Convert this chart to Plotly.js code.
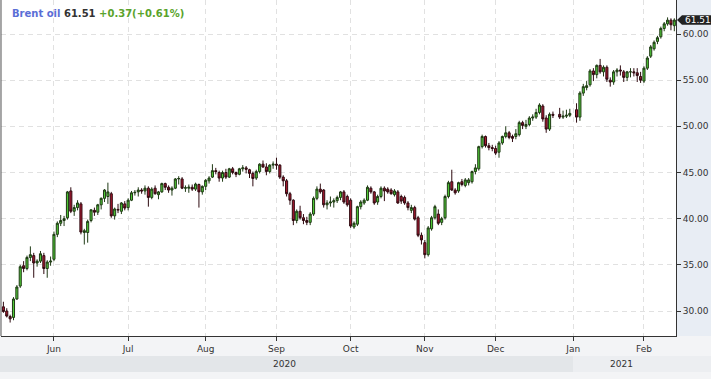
<!DOCTYPE html>
<html>
<head>
<meta charset="utf-8">
<script src="https://cdn.plot.ly/plotly-3.0.1.min.js"></script>
<style>
html,body{margin:0;padding:0;background:#f3f4f6;}
#chart{width:711px;height:379px;}
</style>
</head>
<body>
<div id="chart"></div>
<script>
// ---- data (daily OHLC) ----
const dates = [
 '2020-05-11','2020-05-12','2020-05-13','2020-05-14','2020-05-15','2020-05-18','2020-05-19','2020-05-20','2020-05-21','2020-05-22','2020-05-25','2020-05-26','2020-05-27','2020-05-28','2020-05-29',
 '2020-06-01','2020-06-02','2020-06-03','2020-06-04','2020-06-05','2020-06-08','2020-06-09','2020-06-10','2020-06-11','2020-06-12','2020-06-15','2020-06-16','2020-06-17','2020-06-18','2020-06-19','2020-06-22','2020-06-23','2020-06-24','2020-06-25','2020-06-26','2020-06-29','2020-06-30',
 '2020-07-01','2020-07-02','2020-07-03','2020-07-06','2020-07-07','2020-07-08','2020-07-09','2020-07-10','2020-07-13','2020-07-14','2020-07-15','2020-07-16','2020-07-17','2020-07-20','2020-07-21','2020-07-22','2020-07-23','2020-07-24','2020-07-27','2020-07-28','2020-07-29','2020-07-30','2020-07-31',
 '2020-08-03','2020-08-04','2020-08-05','2020-08-06','2020-08-07','2020-08-10','2020-08-11','2020-08-12','2020-08-13','2020-08-14','2020-08-17','2020-08-18','2020-08-19','2020-08-20','2020-08-21','2020-08-24','2020-08-25','2020-08-26','2020-08-27','2020-08-28','2020-08-31',
 '2020-09-01','2020-09-02','2020-09-03','2020-09-04','2020-09-07','2020-09-08','2020-09-09','2020-09-10','2020-09-11','2020-09-14','2020-09-15','2020-09-16','2020-09-17','2020-09-18','2020-09-21','2020-09-22','2020-09-23','2020-09-24','2020-09-25','2020-09-28','2020-09-29','2020-09-30',
 '2020-10-01','2020-10-02','2020-10-05','2020-10-06','2020-10-07','2020-10-08','2020-10-09','2020-10-12','2020-10-13','2020-10-14','2020-10-15','2020-10-16','2020-10-19','2020-10-20','2020-10-21','2020-10-22','2020-10-23','2020-10-26','2020-10-27','2020-10-28','2020-10-29','2020-10-30',
 '2020-11-02','2020-11-03','2020-11-04','2020-11-05','2020-11-06','2020-11-09','2020-11-10','2020-11-11','2020-11-12','2020-11-13','2020-11-16','2020-11-17','2020-11-18','2020-11-19','2020-11-20','2020-11-23','2020-11-24','2020-11-25','2020-11-26','2020-11-27','2020-11-30',
 '2020-12-01','2020-12-02','2020-12-03','2020-12-04','2020-12-07','2020-12-08','2020-12-09','2020-12-10','2020-12-11','2020-12-14','2020-12-15','2020-12-16','2020-12-17','2020-12-18','2020-12-21','2020-12-22','2020-12-23','2020-12-24','2020-12-28','2020-12-29','2020-12-30','2020-12-31',
 '2021-01-04','2021-01-05','2021-01-06','2021-01-07','2021-01-08','2021-01-11','2021-01-12','2021-01-13','2021-01-14','2021-01-15','2021-01-18','2021-01-19','2021-01-20','2021-01-21','2021-01-22','2021-01-25','2021-01-26','2021-01-27','2021-01-28','2021-01-29',
 '2021-02-01','2021-02-02','2021-02-03','2021-02-04','2021-02-05','2021-02-08','2021-02-09','2021-02-10','2021-02-11','2021-02-12'
];
const opens = [
 30.45,30.0,29.4,29.3,31.3,32.7,34.9,34.6,35.8,36.0,35.2,35.4,36.0,34.6,35.3,
 35.6,38.3,39.5,39.8,40.1,43.0,40.8,41.2,41.6,38.5,38.5,39.8,40.9,40.7,41.5,42.2,42.4,42.7,40.3,41.0,40.8,41.6,
 41.2,42.0,42.8,42.9,43.1,43.0,43.3,42.3,43.3,42.6,42.9,43.8,43.4,43.1,43.3,44.3,44.3,43.3,43.3,43.4,43.2,43.7,42.9,
 43.5,44.1,44.5,45.2,45.0,44.4,45.0,44.5,45.4,45.0,44.8,45.4,45.5,45.3,44.9,44.4,45.1,45.9,45.6,45.1,45.8,
 45.9,45.8,44.5,44.1,42.7,42.0,39.8,40.8,40.1,39.8,39.6,40.5,42.2,43.2,43.1,41.5,41.7,41.8,41.95,42.3,42.9,42.4,
 42.0,39.1,39.4,41.3,41.7,42.0,43.3,42.9,41.8,42.4,43.3,43.2,43.1,42.6,42.9,42.4,42.3,41.7,40.9,41.2,40.1,38.2,
 37.4,36.1,38.9,40.1,40.5,39.6,40.1,42.4,44.0,43.1,43.0,44.0,43.6,43.9,44.0,45.1,45.4,47.8,48.9,47.9,47.7,
 47.6,47.2,48.2,48.9,49.3,48.9,48.9,49.1,50.4,50.0,50.2,50.9,51.0,51.5,52.2,50.9,49.7,51.3,51.3,51.0,51.1,51.2,
 51.8,51.0,53.6,54.2,54.5,56.0,55.6,56.6,55.9,56.4,55.0,54.8,55.9,56.1,55.9,55.3,55.9,55.9,55.8,55.4,
 54.9,56.3,57.6,58.4,59.2,59.7,60.6,61.1,61.5,60.9
];
const highs = [
 31.0,30.3,29.6,31.5,32.8,35.0,35.4,36.0,37.0,36.3,35.6,36.5,36.3,35.5,35.9,
 38.6,39.7,40.4,40.3,43.0,43.4,41.5,42.0,41.8,38.9,39.9,41.0,41.2,41.6,42.3,43.2,43.9,42.9,41.2,41.6,41.8,41.9,
 42.2,43.0,43.1,43.4,43.3,43.6,43.5,43.4,43.6,43.0,43.9,43.9,43.6,43.5,44.4,44.6,44.5,43.6,43.7,43.7,43.9,43.8,43.6,
 44.3,44.6,45.9,45.5,45.2,45.2,45.4,45.5,45.6,45.1,45.5,45.8,45.7,45.4,45.1,45.3,46.0,46.3,46.0,45.9,46.2,
 46.6,45.9,44.7,44.3,42.9,42.1,41.0,41.4,40.5,40.2,40.7,42.4,43.5,43.8,43.2,42.0,42.4,42.2,42.5,43.0,43.1,42.6,
 42.2,39.7,41.4,42.0,42.2,43.6,43.5,43.0,42.6,43.5,43.5,43.4,43.3,43.2,43.1,42.6,42.5,41.9,41.5,41.4,40.3,38.5,
 37.7,39.2,40.3,41.5,41.0,40.2,42.6,44.1,45.3,43.3,44.0,44.3,44.4,44.4,45.2,45.9,47.9,49.1,49.0,48.2,48.0,
 47.9,48.4,49.0,50.0,49.5,49.1,49.7,50.6,50.6,50.7,51.1,51.3,51.9,52.5,52.4,51.2,51.5,51.6,52.0,51.7,51.8,51.9,
 52.5,53.8,54.6,54.9,56.2,56.3,56.7,57.3,56.6,56.6,55.3,56.1,56.3,56.6,56.1,56.0,56.3,56.3,56.3,55.9,
 56.5,57.6,58.8,59.3,59.8,60.8,61.3,61.8,61.7,61.7
];
const lows = [
 29.8,29.3,28.75,29.0,31.2,32.5,34.2,34.4,35.4,33.6,34.8,35.2,34.0,33.6,34.9,
 35.4,38.0,39.2,39.2,39.9,40.6,40.3,40.9,38.3,37.2,37.4,39.6,40.3,40.4,41.0,41.8,41.6,40.1,39.9,40.6,40.5,40.9,
 40.9,41.9,42.5,42.4,42.7,42.6,41.3,42.1,42.6,42.1,42.8,43.1,42.8,42.5,43.2,43.7,43.2,42.9,42.8,43.0,43.0,41.2,42.6,
 43.1,43.8,44.4,44.8,44.0,44.0,44.3,44.4,44.8,44.5,44.7,45.1,44.9,44.4,43.5,44.2,44.9,45.5,44.7,44.9,45.4,
 45.3,44.3,43.5,42.4,41.5,39.3,39.5,39.9,39.4,39.3,39.3,40.3,42.0,42.7,41.2,41.0,41.3,41.2,41.7,42.0,41.6,41.3,
 39.0,38.9,39.2,41.0,41.5,41.9,42.7,41.5,41.5,42.2,41.9,42.7,42.6,42.4,41.6,41.6,41.5,40.9,40.6,39.8,38.0,37.2,
 35.7,35.9,38.7,39.9,39.3,39.3,39.9,42.2,43.0,42.6,42.8,43.5,43.4,43.6,43.8,44.8,45.2,47.6,47.7,47.4,47.3,
 46.9,46.6,48.0,48.7,48.6,48.3,48.6,48.9,49.7,49.7,50.0,50.6,50.8,51.3,50.5,49.3,49.5,50.9,50.8,50.8,50.9,51.0,
 50.4,50.6,53.3,53.9,54.3,54.9,55.2,55.7,55.4,54.8,54.3,54.5,55.4,55.5,54.8,54.9,55.3,55.4,54.8,54.7,
 54.7,56.1,57.4,58.2,58.9,59.5,60.3,60.9,60.4,60.3
];
const closes = [
 29.95,29.45,29.15,31.3,32.6,34.8,34.6,35.8,36.1,35.2,35.4,36.2,34.6,35.3,35.4,
 38.3,39.5,39.8,40.0,42.9,40.8,41.2,41.7,38.55,38.7,39.7,40.96,40.7,41.5,42.2,43.1,42.9,40.3,41.05,40.95,41.7,41.15,
 42.0,42.8,42.85,43.1,43.0,43.3,42.3,43.2,42.7,42.9,43.8,43.4,43.1,43.3,44.3,44.35,43.3,43.35,43.4,43.2,43.75,42.9,43.5,
 44.15,44.4,45.2,45.1,44.4,45.0,44.5,45.4,45.0,44.8,45.4,45.5,45.35,44.9,44.35,45.1,45.9,45.6,45.1,45.8,45.9,
 45.8,44.5,44.1,42.7,42.0,39.8,40.8,40.1,39.8,39.6,40.5,42.2,43.2,42.9,41.5,41.7,41.8,41.95,42.3,42.9,41.8,41.5,
 39.2,39.5,41.3,41.8,42.0,43.4,42.9,41.7,42.4,43.3,43.0,42.9,42.7,43.0,41.7,41.9,41.7,41.2,41.2,39.95,38.2,37.7,
 36.1,39.0,40.1,41.3,39.5,40.0,42.4,43.9,43.1,42.8,43.9,43.7,44.2,44.2,45.1,45.5,47.8,48.9,47.9,47.7,47.6,
 47.1,48.2,48.9,49.3,48.8,48.7,49.2,50.4,50.1,50.2,50.9,51.0,51.5,52.3,50.8,49.7,51.3,51.2,51.0,51.1,51.2,51.4,
 51.0,53.6,54.3,54.4,56.0,55.6,56.6,55.9,56.4,55.1,54.8,55.9,56.1,56.0,55.3,55.9,55.9,55.8,55.5,55.0,
 56.3,57.4,58.6,59.1,59.6,60.6,61.1,61.5,61.0,61.51
];
const monthTickDates = ['2020-06-01','2020-07-01','2020-08-03','2020-09-01','2020-10-01','2020-11-02','2020-12-01','2021-01-01','2021-02-01'];
const monthTickLabels = ['Jun','Jul','Aug','Sep','Oct','Nov','Dec','Jan','Feb'];
const priceTicks = [30,35,40,45,50,55,60];
const yearLabels = ['2020','2021'];
const instrumentName = 'Brent oil';
const lastPrice = 61.51;
const changeAbs = '+0.37';
const changePct = '+0.61%';

// ---- chart ----
const yRange = [27.292, 63.682];
const font = 'DejaVu Sans, Verdana, sans-serif';
const toPaperY = v => (v - yRange[0]) / (yRange[1] - yRange[0]);

const trace = {
  type: 'candlestick',
  x: dates.map(d => d + ' 12:00'),
  open: opens, high: highs, low: lows, close: closes,
  increasing: {line: {color: '#1f3a14', width: 1}, fillcolor: '#4fc936'},
  decreasing: {line: {color: '#2e0a10', width: 1}, fillcolor: '#a8182f'},
  whiskerwidth: 0,
  hoverinfo: 'skip',
  showlegend: false
};

const cy = toPaperY(lastPrice);
const hh = 4.8 / 336;

const layout = {
  width: 711, height: 379,
  margin: {l: 1, r: 35, t: 0, b: 43, pad: 0},
  paper_bgcolor: '#f3f4f6',
  plot_bgcolor: '#ffffff',
  showlegend: false,
  boxgap: 0.12,
  xaxis: {
    type: 'date',
    rangebreaks: [{bounds: ['sat', 'mon']}],
    range: ['2020-05-08 19:00', '2021-02-13 00:00'],
    rangeslider: {visible: false},
    tickmode: 'array',
    tickvals: monthTickDates.map(d => d + ' 12:00'),
    ticktext: monthTickLabels,
    ticks: 'outside', ticklen: 4, tickcolor: '#333', tickwidth: 1,
    showline: true, linecolor: '#333', linewidth: 1,
    showgrid: true, gridcolor: '#e1e1e1', griddash: '5px,4px', gridwidth: 1,
    zeroline: false,
    tickfont: {family: font, size: 9, color: '#333'},
    fixedrange: true
  },
  yaxis: {
    side: 'right',
    range: yRange,
    tickmode: 'array',
    tickvals: priceTicks,
    tickformat: '.2f',
    ticks: 'outside', ticklen: 4, tickcolor: '#333', tickwidth: 1,
    showline: true, linecolor: '#333', linewidth: 1,
    showgrid: true, gridcolor: '#e1e1e1', griddash: '5px,4px', gridwidth: 1,
    zeroline: false,
    tickfont: {family: font, size: 9, color: '#333'},
    fixedrange: true
  },
  shapes: [
    {type: 'rect', xref: 'paper', yref: 'paper', x0: 1, x1: 1.07, y0: 0, y1: 1,
     fillcolor: '#e8edf4', line: {width: 0}, layer: 'below'},
    {type: 'rect', xref: 'paper', yref: 'paper', x0: -0.01, x1: 0.8474, y0: -0.1071, y1: -0.0595,
     fillcolor: '#e3e6e9', line: {width: 0}, layer: 'below'},
    {type: 'rect', xref: 'paper', yref: 'paper', x0: 0.8474, x1: 1.07, y0: -0.1071, y1: -0.0595,
     fillcolor: '#eceef1', line: {width: 0}, layer: 'below'},
    {type: 'line', xref: 'paper', yref: 'paper', x0: 0, x1: 0, y0: 0, y1: 1,
     line: {color: '#555', width: 1}},
    {type: 'path', xref: 'paper', yref: 'paper',
     path: `M 1.0015,${cy} L 1.0089,${cy + hh} L 1.07,${cy + hh} L 1.07,${cy - hh} L 1.0089,${cy - hh} Z`,
     fillcolor: '#222', line: {width: 0}}
  ],
  annotations: [
    {xref: 'paper', yref: 'paper', x: 0.0133, y: 0.9613, xanchor: 'left', yanchor: 'middle', showarrow: false,
     text: `<b><span style="color:#5a6ed6">${instrumentName}</span> <span style="color:#333">${lastPrice.toFixed(2)}</span> <span style="color:#5aa32c">${changeAbs}(${changePct})</span></b>`,
     font: {family: font, size: 10}},
    {xref: 'paper', yref: 'paper', x: 0.4207, y: -0.0833, xanchor: 'center', yanchor: 'middle', showarrow: false,
     text: yearLabels[0], font: {family: font, size: 9, color: '#333'}},
    {xref: 'paper', yref: 'paper', x: 0.9193, y: -0.0833, xanchor: 'center', yanchor: 'middle', showarrow: false,
     text: yearLabels[1], font: {family: font, size: 9, color: '#333'}},
    {xref: 'paper', yref: 'paper', x: 1.0333, y: cy, xanchor: 'center', yanchor: 'middle', showarrow: false,
     text: lastPrice.toFixed(2), font: {family: font, size: 9, color: '#ffffff'}}
  ]
};

Plotly.newPlot('chart', [trace], layout, {staticPlot: true, displayModeBar: false});
</script>
</body>
</html>
